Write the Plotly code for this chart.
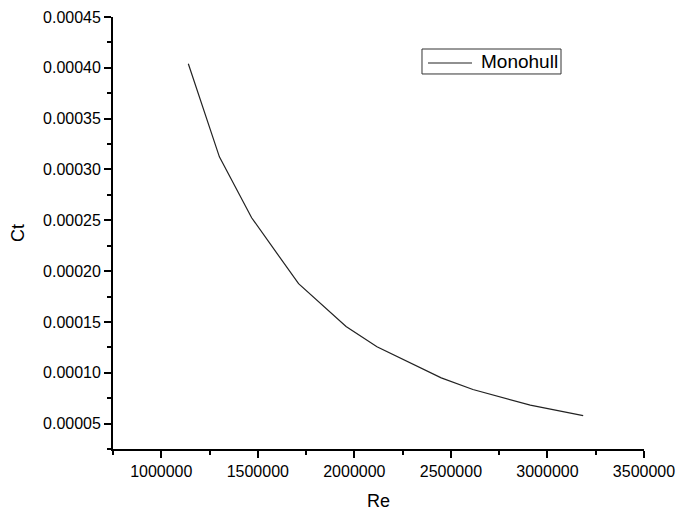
import plotly.graph_objects as go

# Total resistance coefficient of the monohull against Reynolds number
re_values = [1140000, 1301000, 1468000, 1711000, 1957000, 2117000,
             2450000, 2614000, 2911000, 3185000]
ct_values = [0.000404, 0.0003124, 0.0002525, 0.0001876, 0.0001456, 0.0001256,
             0.0000950, 0.0000835, 0.0000682, 0.0000579]
series_name = "Monohull"
x_title = "Re"
y_title = "Ct"

FONT = "Liberation Sans, Arial, sans-serif"
LINE_COLOR = "#222222"

fig = go.Figure()
fig.add_trace(go.Scatter(
    x=re_values, y=ct_values, mode="lines", name=series_name,
    line=dict(color=LINE_COLOR, width=1.2), showlegend=False,
))

axis_common = dict(
    showline=True, linecolor="black", linewidth=1.8,
    showgrid=False, zeroline=False, mirror=False, automargin=False,
    ticks="outside", ticklen=7, tickwidth=1.5, tickcolor="black",
    tickfont=dict(family=FONT, size=16, color="black"),
    title_font=dict(family=FONT, size=18, color="black"),
)

fig.update_xaxes(
    range=[750000, 3500000], tick0=0, dtick=500000, tickformat="d",
    minor=dict(ticks="outside", ticklen=4, tickwidth=1.5, tickcolor="black",
               dtick=250000, tick0=0),
    title_text=x_title, title_standoff=18,
    **axis_common,
)
fig.update_yaxes(
    range=[0.000025, 0.00045], tick0=0, dtick=0.00005, tickformat=".5f",
    minor=dict(ticks="outside", ticklen=4, tickwidth=1.5, tickcolor="black",
               dtick=0.000025, tick0=0),
    title_text=y_title, title_standoff=14,
    **axis_common,
)

# Boxed legend entry in the upper right of the plot area
legend_box = dict(x0=0.5819, x1=0.8437, y0=0.8681, y1=0.9259)
fig.add_shape(type="rect", xref="paper", yref="paper", **legend_box,
              line=dict(color="#333333", width=1), fillcolor="white", layer="above")
fig.add_shape(type="line", xref="paper", yref="paper",
              x0=0.5932, x1=0.6761, y0=0.8935, y1=0.8935,
              line=dict(color=LINE_COLOR, width=1.2), layer="above")
fig.add_annotation(xref="paper", yref="paper", x=0.6893, y=0.8960,
                   xanchor="left", yanchor="middle", showarrow=False,
                   text=series_name,
                   font=dict(family=FONT, size=19, color="black"))

fig.update_layout(
    width=678, height=511,
    margin=dict(l=113, r=34, t=17, b=62),
    plot_bgcolor="white", paper_bgcolor="white",
    font=dict(family=FONT, color="black"),
    showlegend=False,
)

fig.write_html("out.html")
